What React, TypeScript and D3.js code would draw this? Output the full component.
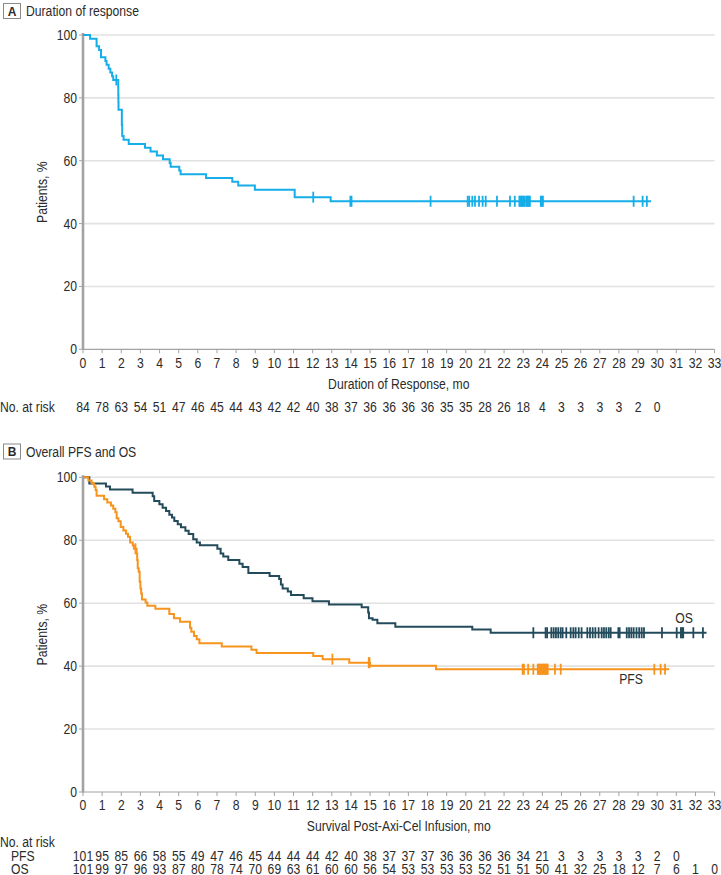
import React from "react";
import * as d3 from "d3";

// ---------- Data ----------
const xTicks = d3.range(0, 34);
const yTicks = [0, 20, 40, 60, 80, 100];

// Panel A: Duration of response
const dorTimes = [0, 0.37, 0.71, 0.84, 0.94, 1.17, 1.23, 1.34, 1.43, 1.52, 1.58, 1.84, 1.845, 1.85, 1.855, 2.03, 2.05, 2.12, 2.39, 3.24, 3.53, 3.86, 4.18, 4.53, 4.58, 5.03, 5.1, 6.43, 7.8, 8.11, 8.98, 11.06, 12.94];
const dorSurv = [100, 98.8, 96.4, 95.2, 92.9, 91.7, 90.5, 89.3, 88.1, 86.9, 85.7, 83.3, 80.9, 78.6, 76.2, 71.4, 67.9, 66.7, 65.3, 64.1, 62.9, 61.7, 60.5, 59.3, 58.1, 56.9, 55.7, 54.5, 53.3, 52.1, 50.8, 48.4, 47.1];
const dorEnd = 29.68;
const dorCensor = [1.74, 12.03, 13.97, 14.03, 18.16, 20.1, 20.18, 20.34, 20.48, 20.69, 20.88, 21.04, 21.63, 22.31, 22.56, 22.8, 22.85, 22.9, 22.95, 23.0, 23.05, 23.15, 23.2, 23.25, 23.3, 23.35, 23.92, 23.97, 24.03, 28.77, 29.24, 29.46];
const dorAtRisk = [84, 78, 63, 54, 51, 47, 46, 45, 44, 43, 42, 42, 40, 38, 37, 36, 36, 36, 36, 35, 35, 28, 26, 18, 4, 3, 3, 3, 3, 2, 0];

// Panel B: OS
const osTimes = [0, 0.33, 1.2, 1.41, 2.59, 3.64, 3.72, 3.99, 4.16, 4.34, 4.51, 4.65, 4.77, 4.95, 5.12, 5.35, 5.52, 5.76, 5.94, 6.11, 7.02, 7.19, 7.33, 7.59, 8.17, 8.34, 8.64, 9.75, 10.25, 10.34, 10.43, 10.7, 10.87, 11.53, 11.99, 12.85, 14.56, 14.9, 14.94, 15.13, 15.38, 16.32, 20.34, 21.3];
const osSurv = [100, 98.0, 97.1, 96.1, 95.1, 94.0, 92.5, 91.4, 90.3, 89.3, 88.1, 87.2, 86.1, 85.1, 84.1, 83.0, 82.0, 80.3, 79.3, 78.4, 77.3, 75.8, 74.8, 73.7, 72.5, 71.5, 69.6, 68.6, 67.7, 65.9, 64.7, 63.7, 62.6, 61.6, 60.6, 59.6, 58.7, 57.0, 55.2, 54.7, 53.6, 52.5, 51.6, 50.6];
const osEnd = 32.58;
const osCensor = [23.53, 24.17, 24.25, 24.47, 24.59, 24.71, 24.83, 24.96, 25.06, 25.25, 25.48, 25.62, 25.74, 25.9, 26.05, 26.35, 26.49, 26.63, 26.77, 26.94, 27.1, 27.22, 27.34, 27.47, 27.57, 27.97, 28.04, 28.41, 28.53, 28.65, 28.77, 28.92, 29.06, 29.19, 29.31, 30.25, 31.02, 31.24, 31.3, 31.36, 31.89, 32.39];
const osAtRisk = [101, 99, 97, 96, 93, 87, 80, 78, 74, 70, 69, 63, 61, 60, 60, 56, 54, 53, 53, 53, 53, 52, 51, 51, 50, 41, 32, 25, 18, 12, 7, 6, 1, 0];

// Panel B: PFS
const pfsTimes = [0, 0.28, 0.45, 0.59, 0.66, 0.71, 1.1, 1.27, 1.46, 1.58, 1.69, 1.76, 1.85, 1.97, 2.11, 2.25, 2.35, 2.46, 2.6, 2.66, 2.8, 2.83, 2.86, 2.91, 2.96, 3.0, 3.04, 3.08, 3.27, 3.36, 3.78, 4.51, 4.75, 5.07, 5.59, 5.66, 5.8, 5.94, 6.08, 7.25, 8.8, 9.07, 12.03, 12.52, 13.91, 15.0, 18.44];
const pfsSurv = [100, 99.0, 98.0, 97.0, 96.0, 94.1, 93.0, 92.0, 91.0, 90.0, 88.9, 87.0, 86.0, 84.2, 83.1, 82.1, 81.1, 79.3, 78.3, 77.3, 75.8, 73.7, 71.1, 70.0, 66.8, 64.7, 63.1, 61.2, 60.2, 59.2, 58.2, 56.6, 55.2, 54.1, 52.2, 50.9, 49.6, 48.5, 47.3, 46.2, 45.2, 44.2, 43.2, 42.2, 41.1, 40.1, 39.0];
const pfsEnd = 30.63;
const pfsCensor = [2.74, 13.03, 14.93, 14.97, 22.97, 23.04, 23.26, 23.53, 23.76, 23.8, 23.85, 23.9, 23.95, 24.0, 24.05, 24.1, 24.15, 24.2, 24.25, 24.28, 24.66, 24.96, 29.85, 30.18, 30.41];
const pfsAtRisk = [101, 95, 85, 66, 58, 55, 49, 47, 46, 45, 44, 44, 44, 42, 40, 38, 37, 37, 37, 36, 36, 36, 36, 34, 21, 3, 3, 3, 3, 3, 2, 0];

// ---------- Styles ----------
const FONT = "'Liberation Sans', Arial, sans-serif";
const FS = 14;
const SX = 0.87;
const TEXT = "#2b2b2b";
const BLUE = "#15aee8";
const OS_C = "#234b5b";
const PFS_C = "#f7941d";
const GRID = "#e2e2e2";
const AXIS = "#a3a3a3";

const x = d3.scaleLinear().domain([0, 33]).range([83, 714.6]);
const yA = d3.scaleLinear().domain([0, 100]).range([349.3, 35]);
const yB = d3.scaleLinear().domain([0, 100]).range([792, 477.3]);

function T({ x: tx, y: ty, anchor = "start", rotate = 0, size = FS, weight = "normal", children }: any) {
  const tr = `translate(${tx},${ty})${rotate ? ` rotate(${rotate})` : ""} scale(${SX},1)`;
  return (
    <text transform={tr} textAnchor={anchor} fontSize={size} fontWeight={weight} fill={TEXT}>{children}</text>
  );
}

function survAt(times: number[], surv: number[], t: number) {
  let v = surv[0];
  for (let i = 0; i < times.length; i++) if (times[i] <= t) v = surv[i];
  return v;
}

function stepPath(times: number[], surv: number[], end: number, y: d3.ScaleLinear<number, number>) {
  const pts: [number, number][] = times.map((t, i) => [t, surv[i]]);
  pts.push([end, surv[surv.length - 1]]);
  return d3.line<[number, number]>().x(d => x(d[0])).y(d => y(d[1])).curve(d3.curveStepAfter)(pts) || "";
}

function Curve({ times, surv, end, censor, y, color }: any) {
  return (
    <g>
      <path d={stepPath(times, surv, end, y)} fill="none" stroke={color} strokeWidth={2} />
      {censor.map((t: number, i: number) => {
        const v = survAt(times, surv, t);
        return <line key={i} x1={x(t)} x2={x(t)} y1={y(v) - 5.5} y2={y(v) + 5.5} stroke={color} strokeWidth={1.8} />;
      })}
    </g>
  );
}

function Frame({ y, title, letter, top, xTitle, tickY, xTitleY }: any) {
  return (
    <g>
      <rect x={3.5} y={top + 0.5} width={17} height={15} fill="none" stroke="#8a8a8a" strokeWidth={1} />
      <text x={12} y={top + 12.5} textAnchor="middle" fontWeight="bold" fontSize={12} fill={TEXT}>{letter}</text>
      <T x={26} y={top + 13}>{title}</T>
      {yTicks.filter(v => v > 0).map(v => (
        <line key={v} x1={x(0)} x2={x(33)} y1={y(v)} y2={y(v)} stroke={GRID} strokeWidth={1.6} />
      ))}
      {yTicks.map(v => (
        <g key={"yt" + v}>
          <line x1={x(0) - 4} x2={x(0)} y1={y(v)} y2={y(v)} stroke={AXIS} strokeWidth={1} />
          <T x={x(0) - 6} y={y(v) + 5} anchor="end">{v}</T>
        </g>
      ))}
      <line x1={x(0)} x2={x(33)} y1={y(0)} y2={y(0)} stroke={AXIS} strokeWidth={1.2} />
      {xTicks.map(t => (
        <g key={"xt" + t}>
          <line x1={x(t)} x2={x(t)} y1={y(0)} y2={y(0) + 4} stroke={AXIS} strokeWidth={1} />
          <T x={x(t)} y={tickY} anchor="middle">{t}</T>
        </g>
      ))}
      <line x1={x(0)} x2={x(0)} y1={y(100) - 2} y2={y(0) + 0.5} stroke={AXIS} strokeWidth={2.6} />
      <T x={47} y={(y(60) + y(40)) / 2} anchor="middle" rotate={-90}>Patients, %</T>
      <T x={(x(0) + x(33)) / 2} y={xTitleY} anchor="middle">{xTitle}</T>
    </g>
  );
}

function AtRisk({ values, yPos }: any) {
  return (
    <g>
      {values.map((v: number, i: number) => (
        <T key={i} x={x(i)} y={yPos} anchor="middle">{v}</T>
      ))}
    </g>
  );
}

export default function App() {
  return (
    <svg width={721} height={875} style={{ position: "absolute", left: 0, top: 0, background: "#fff" }} fontFamily={FONT}>
      <rect x={0} y={0} width={721} height={875} fill="#fff" />
      {/* Panel A */}
      <Frame y={yA} title="Duration of response" letter="A" top={3} xTitle="Duration of Response, mo" tickY={368} xTitleY={388.5} />
      <Curve times={dorTimes} surv={dorSurv} end={dorEnd} censor={dorCensor} y={yA} color={BLUE} />
      <T x={0} y={411.5}>No. at risk</T>
      <AtRisk values={dorAtRisk} yPos={411.5} />

      {/* Panel B */}
      <Frame y={yB} title="Overall PFS and OS" letter="B" top={443.5} xTitle="Survival Post-Axi-Cel Infusion, mo" tickY={810} xTitleY={830.5} />
      <Curve times={osTimes} surv={osSurv} end={osEnd} censor={osCensor} y={yB} color={OS_C} />
      <Curve times={pfsTimes} surv={pfsSurv} end={pfsEnd} censor={pfsCensor} y={yB} color={PFS_C} />
      <T x={684} y={622.5} anchor="middle">OS</T>
      <T x={631} y={684} anchor="middle">PFS</T>
      <T x={0} y={846.5}>No. at risk</T>
      <T x={11} y={861}>PFS</T>
      <T x={11} y={873.5}>OS</T>
      <AtRisk values={pfsAtRisk} yPos={861} />
      <AtRisk values={osAtRisk} yPos={873.5} />
    </svg>
  );
}
